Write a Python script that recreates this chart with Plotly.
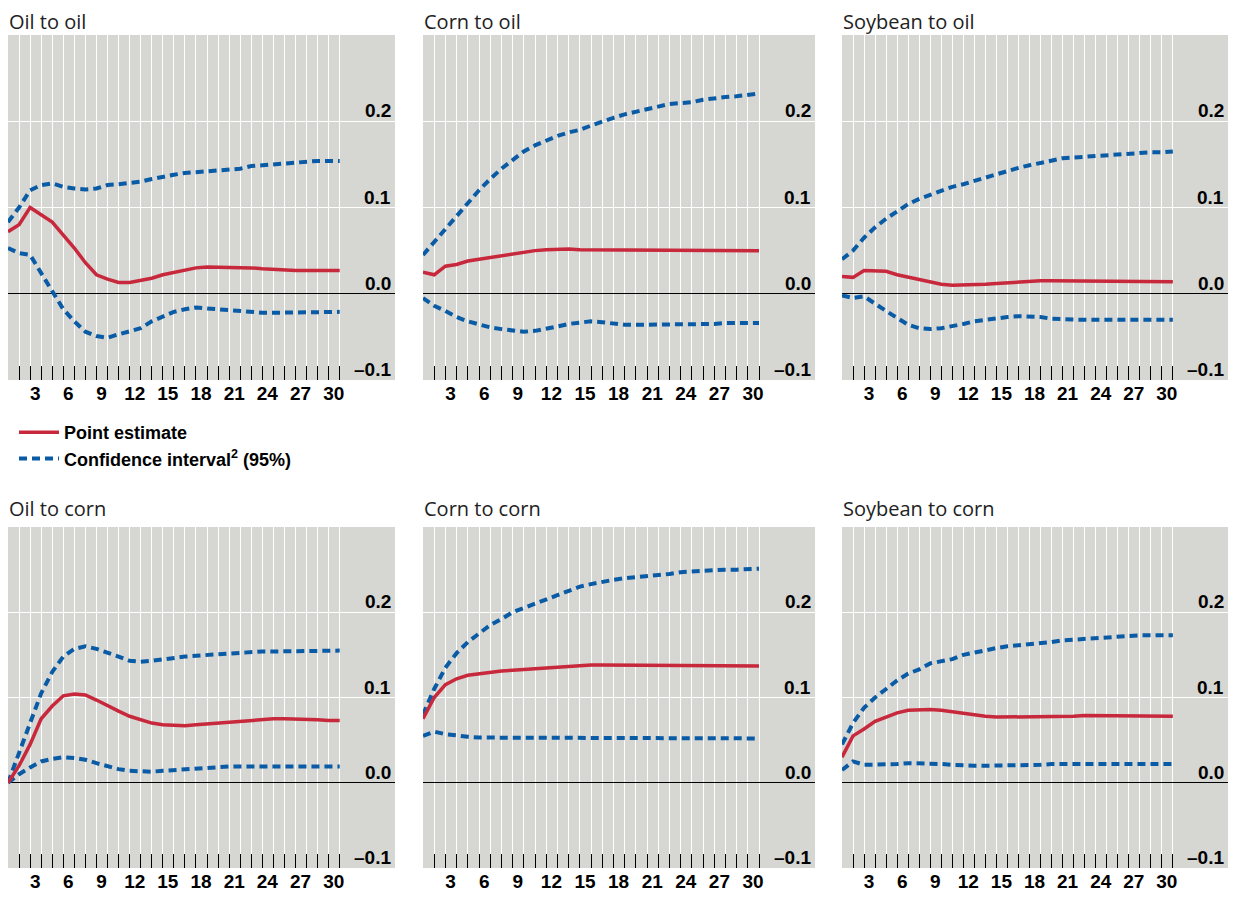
import plotly.graph_objects as go

# =====================
# Data (periods 0..30)
# =====================
periods = list(range(31))
tick_labels = ["3", "6", "9", "12", "15", "18", "21", "24", "27", "30"]
y_ticks = [-0.1, 0.0, 0.1, 0.2]
y_tick_text = ["\u20130.1", "0.0", "0.1", "0.2"]

titles = ["Oil to oil", "Corn to oil", "Soybean to oil",
          "Oil to corn", "Corn to corn", "Soybean to corn"]

oil_oil_pt = [0.072, 0.08, 0.1, 0.092, 0.083, 0.068, 0.053, 0.036, 0.022, 0.017, 0.013, 0.013, 0.015, 0.018, 0.022,
              0.025, 0.028, 0.03, 0.031, 0.031, 0.031, 0.03, 0.03, 0.029, 0.028, 0.027, 0.027, 0.027, 0.027, 0.027, 0.027]
oil_oil_hi = [0.083, 0.1, 0.12, 0.126, 0.128, 0.124, 0.122, 0.121, 0.122, 0.126, 0.127, 0.128, 0.13, 0.133, 0.136,
              0.138, 0.14, 0.141, 0.142, 0.142, 0.143, 0.145, 0.148, 0.149, 0.15, 0.152, 0.153, 0.154, 0.154, 0.154, 0.154]
oil_oil_lo = [0.053, 0.047, 0.045, 0.024, 0.005, -0.018, -0.032, -0.044, -0.049, -0.051, -0.047, -0.044, -0.04, -0.032, -0.026,
              -0.021, -0.018, -0.016, -0.017, -0.018, -0.02, -0.021, -0.022, -0.022, -0.022, -0.022, -0.022, -0.022, -0.021, -0.021, -0.021]

corn_oil_pt = [0.025, 0.022, 0.032, 0.034, 0.038, 0.04, 0.042, 0.045, 0.047, 0.049, 0.05, 0.051, 0.052, 0.052, 0.051,
               0.051, 0.05, 0.05, 0.05, 0.05, 0.05, 0.05, 0.05, 0.05, 0.05, 0.05, 0.05, 0.05, 0.05, 0.05, 0.05]
corn_oil_hi = [0.045, 0.06, 0.075, 0.09, 0.105, 0.12, 0.133, 0.145, 0.155, 0.165, 0.172, 0.178, 0.183, 0.187, 0.19,
               0.195, 0.2, 0.204, 0.208, 0.211, 0.214, 0.218, 0.22, 0.221, 0.222, 0.225, 0.227, 0.228, 0.229, 0.231, 0.232]
corn_oil_lo = [-0.005, -0.014, -0.02, -0.027, -0.032, -0.036, -0.039, -0.041, -0.043, -0.044, -0.043, -0.041, -0.038, -0.035, -0.033,
               -0.032, -0.033, -0.035, -0.036, -0.036, -0.036, -0.036, -0.036, -0.036, -0.035, -0.035, -0.035, -0.034, -0.034, -0.034, -0.034]

soy_oil_pt = [0.02, 0.019, 0.027, 0.027, 0.026, 0.022, 0.019, 0.016, 0.013, 0.011, 0.01, 0.01, 0.01, 0.011, 0.012,
              0.013, 0.014, 0.015, 0.015, 0.015, 0.015, 0.015, 0.015, 0.014, 0.014, 0.014, 0.014, 0.014, 0.014, 0.014, 0.014]
soy_oil_hi = [0.04, 0.05, 0.065, 0.077, 0.087, 0.096, 0.104, 0.11, 0.115, 0.12, 0.124, 0.127, 0.131, 0.135, 0.139,
              0.143, 0.146, 0.149, 0.152, 0.154, 0.157, 0.158, 0.159, 0.16, 0.161, 0.162, 0.163, 0.163, 0.164, 0.164, 0.165]
soy_oil_lo = [-0.002, -0.005, -0.003, -0.012, -0.02, -0.028, -0.036, -0.04, -0.041, -0.04, -0.038, -0.035, -0.032, -0.03, -0.028,
              -0.027, -0.026, -0.026, -0.027, -0.029, -0.03, -0.03, -0.03, -0.03, -0.03, -0.03, -0.03, -0.03, -0.03, -0.03, -0.03]

oil_corn_pt = [0.0, 0.02, 0.045, 0.075, 0.09, 0.102, 0.104, 0.103, 0.097, 0.09, 0.084, 0.078, 0.074, 0.07, 0.068,
               0.067, 0.067, 0.068, 0.069, 0.07, 0.072, 0.073, 0.074, 0.075, 0.075, 0.075, 0.075, 0.074, 0.074, 0.073, 0.073]
oil_corn_hi = [0.0, 0.035, 0.07, 0.105, 0.13, 0.148, 0.157, 0.16, 0.157, 0.153, 0.148, 0.143, 0.142, 0.143, 0.145,
               0.146, 0.148, 0.149, 0.15, 0.151, 0.152, 0.152, 0.153, 0.154, 0.154, 0.154, 0.154, 0.155, 0.155, 0.155, 0.155]
oil_corn_lo = [0.0, 0.01, 0.018, 0.025, 0.028, 0.03, 0.029, 0.027, 0.023, 0.019, 0.016, 0.014, 0.013, 0.013, 0.014,
               0.015, 0.016, 0.017, 0.018, 0.018, 0.019, 0.019, 0.019, 0.019, 0.018, 0.018, 0.018, 0.018, 0.019, 0.019, 0.019]

corn_corn_pt = [0.075, 0.1, 0.115, 0.122, 0.126, 0.128, 0.13, 0.131, 0.132, 0.133, 0.134, 0.135, 0.136, 0.137, 0.137,
                0.138, 0.138, 0.138, 0.138, 0.137, 0.137, 0.137, 0.137, 0.137, 0.137, 0.137, 0.137, 0.137, 0.137, 0.137, 0.137]
corn_corn_hi = [0.08, 0.11, 0.135, 0.152, 0.165, 0.175, 0.185, 0.192, 0.2, 0.205, 0.21, 0.215, 0.22, 0.225, 0.23,
                0.233, 0.236, 0.238, 0.24, 0.241, 0.242, 0.243, 0.245, 0.247, 0.248, 0.249, 0.25, 0.25, 0.25, 0.251, 0.251]
corn_corn_lo = [0.055, 0.06, 0.057, 0.055, 0.054, 0.053, 0.053, 0.052, 0.052, 0.052, 0.052, 0.052, 0.053, 0.053, 0.053,
                0.053, 0.053, 0.053, 0.053, 0.053, 0.052, 0.052, 0.052, 0.053, 0.053, 0.053, 0.053, 0.052, 0.052, 0.052, 0.052]

soy_corn_pt = [0.03, 0.055, 0.063, 0.072, 0.077, 0.082, 0.085, 0.086, 0.086, 0.085, 0.083, 0.081, 0.079, 0.078, 0.077,
               0.077, 0.077, 0.077, 0.078, 0.078, 0.078, 0.078, 0.079, 0.079, 0.079, 0.079, 0.079, 0.078, 0.078, 0.078, 0.078]
soy_corn_hi = [0.045, 0.07, 0.088, 0.1, 0.11, 0.12, 0.128, 0.133, 0.14, 0.142, 0.145, 0.15, 0.153, 0.156, 0.158,
               0.16, 0.161, 0.163, 0.164, 0.165, 0.167, 0.168, 0.169, 0.17, 0.17, 0.171, 0.172, 0.173, 0.173, 0.173, 0.173]
soy_corn_lo = [0.015, 0.025, 0.021, 0.021, 0.022, 0.022, 0.023, 0.023, 0.023, 0.022, 0.021, 0.02, 0.02, 0.02, 0.02,
               0.02, 0.021, 0.021, 0.021, 0.022, 0.022, 0.022, 0.022, 0.022, 0.022, 0.022, 0.022, 0.022, 0.022, 0.022, 0.022]

panels = [
    (oil_oil_pt, oil_oil_hi, oil_oil_lo),
    (corn_oil_pt, corn_oil_hi, corn_oil_lo),
    (soy_oil_pt, soy_oil_hi, soy_oil_lo),
    (oil_corn_pt, oil_corn_hi, oil_corn_lo),
    (corn_corn_pt, corn_corn_hi, corn_corn_lo),
    (soy_corn_pt, soy_corn_hi, soy_corn_lo),
]

# =====================
# Layout
# =====================
RED = "#C8283C"
BLUE = "#0A5BA5"
GRAY = "#D6D6D2"
OFF = 8                       # page body margin
W, H = 1236 - 2 * OFF, 899 - 2 * OFF


def px_x(p):
    return max(0.0, min(1.0, (p - OFF) / W))


def px_y(p):
    return max(0.0, min(1.0, 1 - (p - OFF) / H))


col_dom = [(px_x(3), px_x(395)), (px_x(423), px_x(815)), (px_x(842), px_x(1234))]
row_dom = [(px_y(380), px_y(35)), (px_y(868), px_y(527))]
title_y = [px_y(22), px_y(508)]

fig = go.Figure()
annotations = []
tickvals = list(range(1, 31))
ticktext = [f"<b>{k}</b>" if str(k) in tick_labels else "" for k in tickvals]

for i, (pt, hi, lo) in enumerate(panels):
    r, c = divmod(i, 3)
    n = i + 1
    xa = "x" if n == 1 else f"x{n}"
    ya = "y" if n == 1 else f"y{n}"
    first = i == 0
    fig.add_trace(go.Scatter(x=periods, y=hi, xaxis=xa, yaxis=ya, mode="lines",
                             line=dict(color=BLUE, width=4, dash="8px,5px"),
                             name="<b>Confidence interval<sup>2</sup> (95%)</b>", showlegend=first,
                             legendrank=2))
    fig.add_trace(go.Scatter(x=periods, y=lo, xaxis=xa, yaxis=ya, mode="lines",
                             line=dict(color=BLUE, width=4, dash="8px,5px"), showlegend=False))
    fig.add_trace(go.Scatter(x=periods, y=pt, xaxis=xa, yaxis=ya, mode="lines",
                             line=dict(color=RED, width=3.5), name="<b>Point estimate</b>",
                             showlegend=first, legendrank=1))

    key = "" if n == 1 else str(n)
    fig.layout["xaxis" + key] = dict(
        domain=col_dom[c], anchor=ya, range=[0, 35], tickvals=tickvals, ticktext=ticktext,
        ticks="inside", ticklen=14, tickcolor="black", tickwidth=1, ticklabelshift=-6,
        showgrid=True, gridcolor="white", gridwidth=1.2, zeroline=False, showline=False,
        tickfont=dict(family="Liberation Sans", size=19, color="black"), fixedrange=True,
    )
    fig.layout["yaxis" + key] = dict(
        domain=row_dom[r], anchor=xa, range=[-0.1, 0.3], tickvals=[0.1, 0.2],
        showticklabels=False, showgrid=True, gridcolor="white", gridwidth=1.2,
        zeroline=True, zerolinecolor="black", zerolinewidth=1, showline=False, fixedrange=True,
    )
    for v, t in zip(y_ticks, y_tick_text):
        annotations.append(dict(xref=xa, yref=ya, x=34.8, y=v, text=f"<b>{t}</b>", showarrow=False,
                                xanchor="right", yanchor="bottom", yshift=-2,
                                font=dict(family="Liberation Sans", size=19, color="black")))
    annotations.append(dict(xref="paper", yref="paper", x=col_dom[c][0],
                            y=title_y[r], text=titles[i], showarrow=False,
                            xanchor="left", yanchor="middle", borderpad=0,
                            font=dict(family="Open Sans", size=20, color="#222222")))

fig.update_layout(
    width=W, height=H, margin=dict(l=0, r=0, t=0, b=0),
    paper_bgcolor="white", plot_bgcolor=GRAY,
    annotations=annotations,
    legend=dict(x=px_x(14), y=px_y(414), xanchor="left", yanchor="top", bgcolor="rgba(0,0,0,0)",
                font=dict(family="Liberation Sans", size=18, color="black"),
                itemwidth=40, tracegroupgap=2),
)
fig.write_html("out.html")
